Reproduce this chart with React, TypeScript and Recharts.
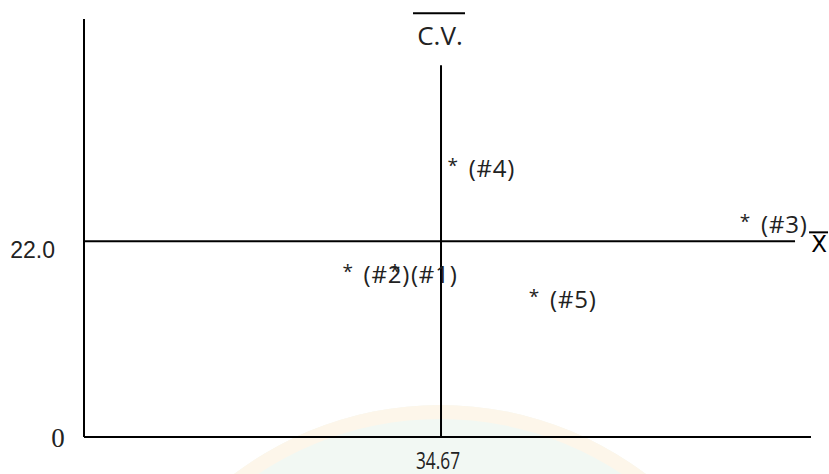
import { ScatterChart, Scatter, XAxis, YAxis, ReferenceLine, Label } from "recharts";

const schools = ["#1", "#2", "#3", "#4", "#5"];
const cvValues = [30.2, 25.6, 64.2, 35.8, 43.7];
const meanValues = [19.0, 19.0, 24.6, 30.9, 16.2];
const cvMean = 34.67;
const grandMean = 22.0;

const points = schools.map((name, i) => ({ name, cv: cvValues[i], mean: meanValues[i] }));

const TEXT = "#222";
const THIN_FONT = "'Open Sans', sans-serif";

// asterisk marker followed by the school number
function StarMark(props: any) {
  const { cx, cy, payload } = props;
  return (
    <g>
      <text x={cx} y={cy + 10} textAnchor="middle" fontFamily={THIN_FONT} fontSize={19} fill={TEXT}>
        *
      </text>
      <text x={cx + 16} y={cy + 15} fontFamily={THIN_FONT} fontSize={24} letterSpacing={0.8} fill={TEXT}>
        ({payload.name})
      </text>
    </g>
  );
}

function CvTick(props: any) {
  const { x, y, payload } = props;
  return (
    <text x={x - 3} y={y + 24} textAnchor="middle" fontFamily={THIN_FONT} fontSize={23} textLength={44} lengthAdjust="spacingAndGlyphs" fill={TEXT}>
      {payload.value.toFixed(2)}
    </text>
  );
}

function MeanTick(props: any) {
  const { x, y, payload } = props;
  if (payload.value === 0) {
    return (
      <text x={x - 18} y={y + 10} textAnchor="middle" fontFamily="'Liberation Serif', serif" fontSize={27} fill={TEXT}>
        0
      </text>
    );
  }
  return (
    <text x={x - 21} y={y + 17} textAnchor="end" fontFamily="'Liberation Sans', sans-serif" fontSize={23} fill={TEXT}>
      {payload.value.toFixed(1)}
    </text>
  );
}

function CvLabel(props: any) {
  const vb = props.viewBox || {};
  const cx = vb.x + (vb.width || 0) / 2;
  const top = vb.y;
  return (
    <g>
      <line x1={cx - 28} x2={cx + 24} y1={top - 52} y2={top - 52} stroke="#000" strokeWidth={2} />
      <text x={cx - 1} y={top - 20} textAnchor="middle" fontFamily={THIN_FONT} fontSize={26} fill={TEXT}>
        C.V.
      </text>
    </g>
  );
}

function MeanLabel(props: any) {
  const vb = props.viewBox || {};
  const right = vb.x + vb.width;
  const ly = vb.y;
  return (
    <g>
      <line x1={right + 14} x2={right + 33} y1={ly - 9} y2={ly - 9} stroke="#000" strokeWidth={2} />
      <text x={right + 24} y={ly + 11} textAnchor="middle" fontFamily="'DejaVu Sans', sans-serif" fontSize={23} fill="#000">
        X
      </text>
    </g>
  );
}

export default function App() {
  return (
    <div style={{ position: "absolute", left: 0, top: 0, width: 829, height: 474, overflow: "hidden", background: "#fff" }}>
      <div
        style={{
          position: "absolute",
          left: 440 - 342,
          top: 405,
          width: 684,
          height: 684,
          borderRadius: "50%",
          background: "#f2f8f3",
          boxShadow: "inset 0 0 0 14px #fdf6ea",
        }}
      />
      <ScatterChart
        width={829}
        height={474}
        margin={{ top: 19, right: 18, bottom: 0, left: 0 }}
        style={{ position: "absolute", left: 0, top: 0 }}
      >
        <XAxis
          type="number"
          dataKey="cv"
          domain={[0, 70.6]}
          ticks={[cvMean]}
          tick={<CvTick />}
          tickLine={false}
          axisLine={{ stroke: "#000", strokeWidth: 2 }}
          height={37}
          interval={0}
        />
        <YAxis
          type="number"
          dataKey="mean"
          domain={[0, 47]}
          ticks={[0, grandMean]}
          tick={<MeanTick />}
          tickLine={false}
          axisLine={{ stroke: "#000", strokeWidth: 2 }}
          width={84}
          interval={0}
        />
        <ReferenceLine
          segment={[{ x: cvMean, y: 0 }, { x: cvMean, y: 41.8 }]}
          stroke="#000"
          strokeWidth={2}
        >
          <Label content={<CvLabel />} position="top" />
        </ReferenceLine>
        <ReferenceLine
          segment={[{ x: 0, y: grandMean }, { x: 69.05, y: grandMean }]}
          stroke="#000"
          strokeWidth={2}
        >
          <Label content={<MeanLabel />} position="right" />
        </ReferenceLine>
        <Scatter data={points} shape={<StarMark />} isAnimationActive={false} />
      </ScatterChart>
    </div>
  );
}
